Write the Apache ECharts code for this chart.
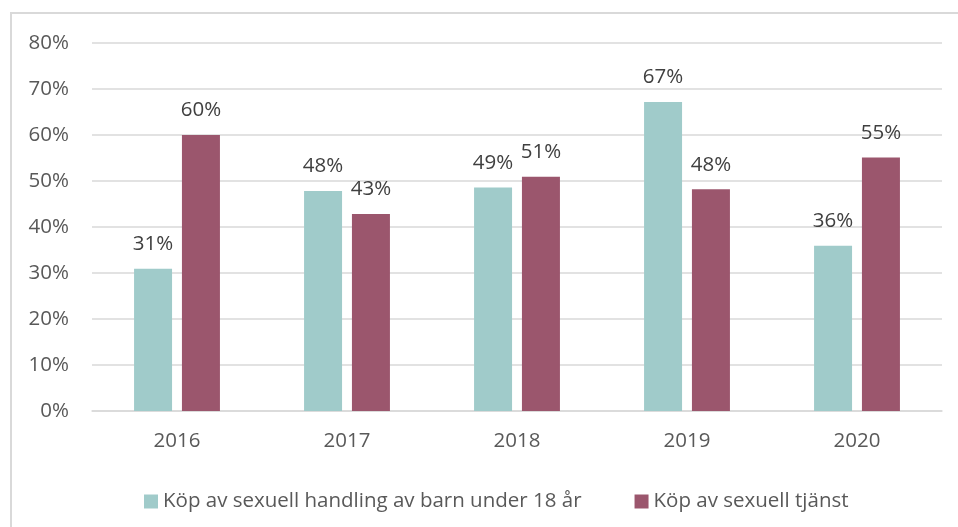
<!DOCTYPE html>
<html>

<head>
    <meta charset="utf-8">
    <title>Köp av sexuell handling</title>
    <script src="https://cdn.jsdelivr.net/npm/echarts@6/dist/echarts.min.js"></script>
    <style>
        body { margin: 0; background: #fff; }
    </style>
</head>

<body>
    <div id="main" style="width: 958px;height:527px;"></div>

    <script type="text/javascript">

        var years = ['2016', '2017', '2018', '2019', '2020'];
        var barnValues = [30.9, 47.8, 48.6, 67.2, 35.9];
        var tjanstValues = [60.0, 42.8, 50.9, 48.2, 55.1];
        var seriesNames = ['Köp av sexuell handling av barn under 18 år', 'Köp av sexuell tjänst'];

        var FONT = '"Open Sans", sans-serif';
        var FS = 20.5;

        var chart = echarts.init(document.getElementById('main'));

        function barLabel() {
            return {
                show: true,
                position: 'top',
                distance: 14,
                color: '#404040',
                fontFamily: FONT,
                fontSize: FS,
                formatter: function (p) {
                    return Math.round(p.value) + '%';
                }
            };
        }

        var option = {
            animation: false,
            textStyle: { fontFamily: FONT },
            // light frame round the chart
            graphic: [{
                type: 'rect',
                shape: { x: 11, y: 13, width: 1000, height: 600 },
                style: { fill: 'none', stroke: '#d9d9d9', lineWidth: 2 },
                silent: true
            }],
            grid: {
                left: 92,
                right: 16,
                top: 43,
                bottom: 116,
                containLabel: false
            },
            legend: {
                left: 139,
                top: 486,
                itemWidth: 14,
                itemHeight: 14,
                itemGap: 53,
                icon: 'rect',
                textStyle: {
                    color: '#595959',
                    fontFamily: FONT,
                    fontSize: FS
                },
                data: seriesNames
            },
            xAxis: {
                type: 'category',
                data: years,
                axisTick: { show: false },
                axisLine: { lineStyle: { color: '#d9d9d9', width: 1.5 } },
                axisLabel: {
                    color: '#595959',
                    fontFamily: FONT,
                    fontSize: FS,
                    margin: 20
                }
            },
            yAxis: {
                type: 'value',
                min: 0,
                max: 80,
                interval: 10,
                axisLine: { show: false },
                axisTick: { show: false },
                splitLine: { lineStyle: { color: '#d9d9d9', width: 1.5 } },
                axisLabel: {
                    formatter: '{value}%',
                    color: '#595959',
                    fontFamily: FONT,
                    fontSize: FS,
                    margin: 23
                }
            },
            series: [{
                name: seriesNames[0],
                type: 'bar',
                data: barnValues,
                barWidth: 38,
                barGap: '26%',
                itemStyle: { color: '#a0cbca' },
                label: barLabel()
            }, {
                name: seriesNames[1],
                type: 'bar',
                data: tjanstValues,
                barWidth: 38,
                itemStyle: { color: '#9b566d' },
                label: barLabel()
            }]
        };

        chart.setOption(option);

    </script>
</body>

</html>
